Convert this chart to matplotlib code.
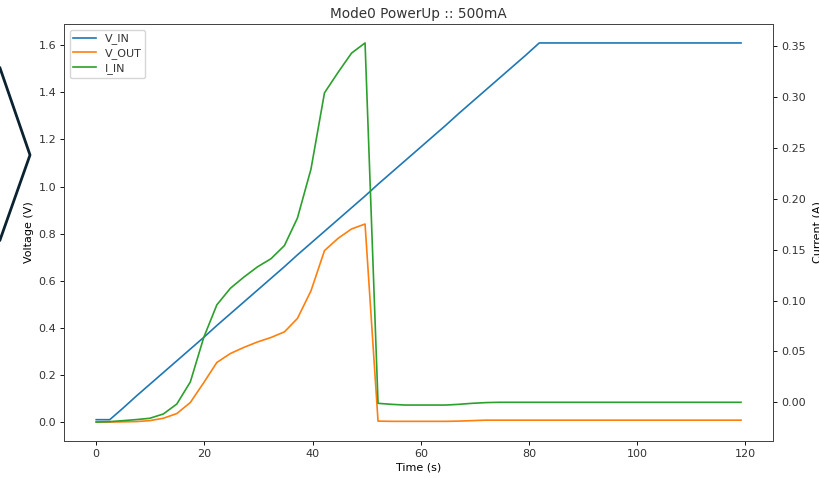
import matplotlib.pyplot as plt
from matplotlib.lines import Line2D

# sample times (s)
t = [0.0, 2.5, 5.0, 7.4, 9.9, 12.4, 14.9, 17.4, 19.9, 22.3, 24.8, 27.3, 29.8,
     32.3, 34.8, 37.2, 39.7, 42.2, 44.7, 47.2, 49.7, 52.1, 54.6, 57.1, 59.6,
     62.1, 64.6, 67.0, 69.5, 72.0, 74.5, 77.0, 79.5, 81.9, 84.4, 86.9, 89.4,
     91.9, 94.4, 96.8, 99.3, 101.8, 104.3, 106.8, 109.3, 111.7, 114.2, 116.7,
     119.2]

v_in = [0.01, 0.01, 0.06, 0.11, 0.16, 0.21, 0.26, 0.31, 0.36, 0.41, 0.46, 0.51,
        0.56, 0.61, 0.66, 0.71, 0.76, 0.81, 0.86, 0.91, 0.96, 1.01, 1.06, 1.11,
        1.16, 1.21, 1.26, 1.31, 1.36, 1.41, 1.46, 1.51, 1.56, 1.61, 1.61, 1.61,
        1.61, 1.61, 1.61, 1.61, 1.61, 1.61, 1.61, 1.61, 1.61, 1.61, 1.61, 1.61,
        1.61]

v_out = [0.0, 0.0, 0.001, 0.002, 0.006, 0.016, 0.036, 0.083, 0.168, 0.253,
         0.291, 0.317, 0.340, 0.359, 0.383, 0.440, 0.557, 0.728, 0.780, 0.820,
         0.841, 0.004, 0.003, 0.003, 0.003, 0.003, 0.003, 0.004, 0.006, 0.008,
         0.008, 0.008, 0.008, 0.008, 0.008, 0.008, 0.008, 0.008, 0.008, 0.008,
         0.008, 0.008, 0.008, 0.008, 0.008, 0.008, 0.008, 0.008, 0.008]

i_in = [-0.0194, -0.019, -0.018, -0.017, -0.0157, -0.0115, -0.0017, 0.020,
        0.064, 0.0957, 0.112, 0.123, 0.133, 0.141, 0.154, 0.181, 0.229, 0.304,
        0.324, 0.343, 0.353, -0.001, -0.002, -0.0027, -0.0027, -0.0027, -0.0027,
        -0.002, -0.001, -0.0003, 0.0, 0.0, 0.0, 0.0, 0.0, 0.0, 0.0, 0.0, 0.0,
        0.0, 0.0, 0.0, 0.0, 0.0, 0.0, 0.0, 0.0, 0.0, 0.0]

plt.rcParams["font.size"] = 8
plt.rcParams["axes.linewidth"] = 0.65
for ax_name in ("xtick", "ytick"):
    plt.rcParams[ax_name + ".major.size"] = 2.8
    plt.rcParams[ax_name + ".major.width"] = 0.65
    plt.rcParams[ax_name + ".major.pad"] = 2.8
plt.rcParams["text.color"] = "#333333"
plt.rcParams["xtick.labelcolor"] = "#333333"
plt.rcParams["ytick.labelcolor"] = "#333333"
plt.rcParams["axes.edgecolor"] = "#444444"

fig = plt.figure(figsize=(8.2, 4.78), dpi=100)
ax = fig.add_axes([0.078, 0.0774, 0.865, 0.8724])
ax2 = ax.twinx()

l1, = ax.plot(t, v_in, color="C0", lw=1.2, label="V_IN")
l2, = ax.plot(t, v_out, color="C1", lw=1.2, label="V_OUT")
l3, = ax2.plot(t, i_in, color="C2", lw=1.2, label="I_IN")

ax.set_xlabel("Time (s)", labelpad=2.5)
ax.set_ylabel("Voltage (V)", labelpad=3)
ax2.set_ylabel("Current (A)", labelpad=5)
ax.set_title("Mode0 PowerUp :: 500mA", fontsize=9.8, pad=4.5)
ax.legend(handles=[l1, l2, l3], loc="upper left", fontsize=8,
          handlelength=2.0, borderpad=0.35, labelspacing=0.35)

# slide decoration on the left edge
fig.add_artist(Line2D([0.0, 0.0366, 0.0], [1 - 68/478, 1 - 155/478, 1 - 240/478],
                      transform=fig.transFigure, color="#0b2230", lw=2.0))

fig.savefig("out.png", dpi=100)
